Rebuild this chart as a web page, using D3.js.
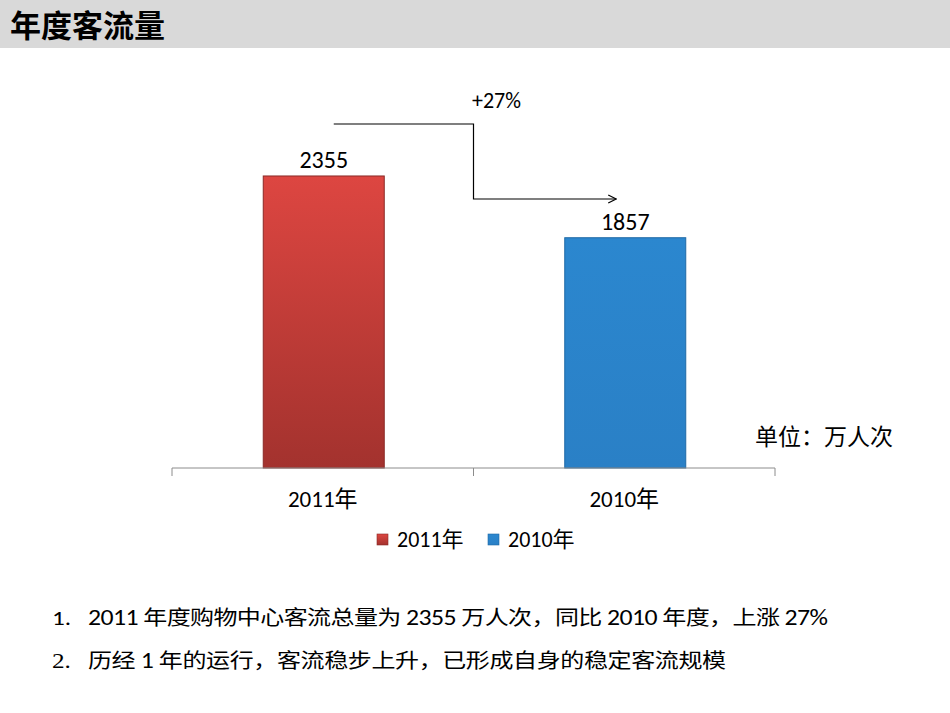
<!DOCTYPE html>
<html>
<head>
<meta charset="utf-8">
<script src="https://cdn.jsdelivr.net/npm/d3@7"></script>
<style>
  body { margin: 0; background: #fff; }
  svg { display: block; }
</style>
</head>
<body>
<svg class="main" width="950" height="713"></svg>
<script>
var CATEGORIES = ["2011年", "2010年"];
var VALUES = [2355, 1857];
var GROWTH_LABEL = "+27%";
var UNIT_LABEL = "单位：万人次";
var TITLE = "年度客流量";
var NOTE_MARKS = ["1.", "2."];
var NOTES = [
  "2011 年度购物中心客流总量为 2355 万人次，同比 2010 年度，上涨 27%",
  "历经 1 年的运行，客流稳步上升，已形成自身的稳定客流规模"
];
var NOTE_WIDTHS = [740, 638]; // measured text run widths
var COLORS = [
  { top: "#dd4641", bottom: "#a3322e", edge: "#8a2a27" },
  { top: "#2b87cf", bottom: "#2a80c6", edge: "#1f6aa6" }
];

var LATIN = "Carlito, Lato, 'Noto Sans', sans-serif";
var CJK = "'Noto Sans CJK SC', sans-serif";
var MIXED = "Carlito, Lato, 'Noto Sans CJK SC', sans-serif";

var svg = d3.select("svg.main");
var defs = svg.append("defs");

// header band
svg.append("rect")
  .attr("x", 0).attr("y", 0)
  .attr("width", 950).attr("height", 48)
  .attr("fill", "#d9d9d9");
svg.append("text")
  .attr("x", 10).attr("y", 37)
  .attr("font-family", CJK)
  .attr("font-weight", "bold")
  .attr("font-size", 31)
  .attr("fill", "#000")
  .text(TITLE);

// chart area
var x = d3.scaleBand()
  .domain(CATEGORIES)
  .range([172, 775])
  .paddingInner(0)
  .paddingOuter(0);

var y = d3.scaleLinear()
  .domain([0, 2500])
  .range([468, 468 - 2500 * 0.124]);

var barW = 121;

COLORS.forEach(function(c, i) {
  var g = defs.append("linearGradient")
    .attr("id", "grad" + i)
    .attr("x1", 0).attr("y1", 0).attr("x2", 0).attr("y2", 1);
  g.append("stop").attr("offset", "0%").attr("stop-color", c.top);
  g.append("stop").attr("offset", "100%").attr("stop-color", c.bottom);
});

var bars = svg.append("g").attr("class", "bars");
bars.selectAll("rect")
  .data(VALUES)
  .enter().append("rect")
  .attr("x", function(d, i) { return x(CATEGORIES[i]) + x.bandwidth() / 2 - barW / 2 + 1; })
  .attr("y", function(d) { return y(d); })
  .attr("width", barW)
  .attr("height", function(d) { return y(0) - y(d); })
  .attr("fill", function(d, i) { return "url(#grad" + i + ")"; })
  .attr("stroke", function(d, i) { return COLORS[i].edge; })
  .attr("stroke-width", 1);

// value labels
bars.selectAll("text")
  .data(VALUES)
  .enter().append("text")
  .attr("x", function(d, i) { return x(CATEGORIES[i]) + x.bandwidth() / 2 + 1; })
  .attr("y", function(d) { return y(d) - 8; })
  .attr("text-anchor", "middle")
  .attr("font-family", LATIN)
  .attr("font-size", 24)
  .attr("fill", "#000")
  .text(function(d) { return d; });

// x axis
var xAxis = svg.append("g")
  .attr("transform", "translate(0," + y(0) + ")")
  .call(d3.axisBottom(x).tickSize(0).tickFormat(""));
xAxis.select(".domain").attr("stroke", "#8c8c8c").attr("d", "M172,0H775");
xAxis.selectAll(".tick").remove();

var tickPos = [172].concat(CATEGORIES.map(function(c) { return x(c) + x.bandwidth(); }));
xAxis.selectAll("line.sep")
  .data(tickPos)
  .enter().append("line")
  .attr("class", "sep")
  .attr("x1", function(d) { return d; })
  .attr("x2", function(d) { return d; })
  .attr("y1", 0).attr("y2", 8)
  .attr("stroke", "#8c8c8c");

xAxis.selectAll("text.cat")
  .data(CATEGORIES)
  .enter().append("text")
  .attr("class", "cat")
  .attr("x", function(d) { return x(d) + x.bandwidth() / 2; })
  .attr("y", 39)
  .attr("text-anchor", "middle")
  .attr("font-family", MIXED)
  .attr("font-size", 23)
  .attr("fill", "#000")
  .text(function(d) { return d; });

// growth arrow
var x0 = x(CATEGORIES[0]) + x.bandwidth() / 2 + 11;
var x1 = x(CATEGORIES[1]);
var x2 = x(CATEGORIES[1]) + x.bandwidth() / 2 - 8;
var yTop = 124, yBot = 199;
defs.append("marker")
  .attr("id", "arrow")
  .attr("viewBox", "0 0 10 10")
  .attr("refX", 9).attr("refY", 5)
  .attr("markerWidth", 10).attr("markerHeight", 10)
  .attr("markerUnits", "userSpaceOnUse")
  .attr("orient", "auto")
  .append("path")
  .attr("d", "M1,1L9,5L1,9")
  .attr("fill", "none")
  .attr("stroke", "#000")
  .attr("stroke-width", 1.3);

svg.append("path")
  .attr("d", d3.line()([[x0, yTop], [x1, yTop], [x1, yBot], [x2, yBot]]))
  .attr("fill", "none")
  .attr("stroke", "#000")
  .attr("stroke-width", 1.2)
  .attr("marker-end", "url(#arrow)");

svg.append("text")
  .attr("x", x1 + 23).attr("y", 108)
  .attr("text-anchor", "middle")
  .attr("font-family", LATIN)
  .attr("font-size", 22)
  .attr("fill", "#000")
  .text(GROWTH_LABEL);

// unit label
svg.append("text")
  .attr("x", 755).attr("y", 445)
  .attr("font-family", CJK)
  .attr("font-size", 23)
  .attr("fill", "#000")
  .text(UNIT_LABEL);

// legend
var legend = svg.append("g").attr("class", "legend");
var legendX = [377, 488];
CATEGORIES.forEach(function(c, i) {
  legend.append("rect")
    .attr("x", legendX[i]).attr("y", 534)
    .attr("width", 11).attr("height", 11)
    .attr("fill", "url(#grad" + i + ")")
    .attr("stroke", COLORS[i].edge)
    .attr("stroke-width", 0.6);
  legend.append("text")
    .attr("x", legendX[i] + 20).attr("y", 547)
    .attr("font-family", MIXED)
    .attr("font-size", 22)
    .attr("fill", "#000")
    .text(c);
});

// notes - the slide text is stretched sideways, so each line is scaled in x
var NOTE_SCALE = 1.2;
var notes = svg.append("g").attr("class", "notes");

function splitRuns(s) {
  return s.split(/([\u3000-\u9fff\uff00-\uffef]+)/).filter(function(t) { return t.length; });
}

NOTES.forEach(function(line, i) {
  var ly = 625 + i * 43;

  notes.append("text")
    .attr("transform", "translate(52," + ly + ") scale(" + NOTE_SCALE + ",1)")
    .attr("font-family", i == 0 ? LATIN : "'Liberation Serif', serif")
    .attr("font-size", 21)
    .attr("fill", "#000")
    .text(NOTE_MARKS[i]);

  var t = notes.append("text")
    .attr("transform", "translate(88," + ly + ") scale(" + NOTE_SCALE + ",1)")
    .attr("textLength", NOTE_WIDTHS[i] / NOTE_SCALE)
    .attr("lengthAdjust", "spacing")
    .attr("fill", "#000")
    .attr("xml:space", "preserve");

  splitRuns(line).forEach(function(run) {
    var isCjk = /[\u3000-\u9fff\uff00-\uffef]/.test(run);
    t.append("tspan")
      .attr("font-family", isCjk ? CJK : LATIN)
      .attr("font-size", isCjk ? 20 : 21.5)
      .text(run);
  });
});
</script>
</body>
</html>
